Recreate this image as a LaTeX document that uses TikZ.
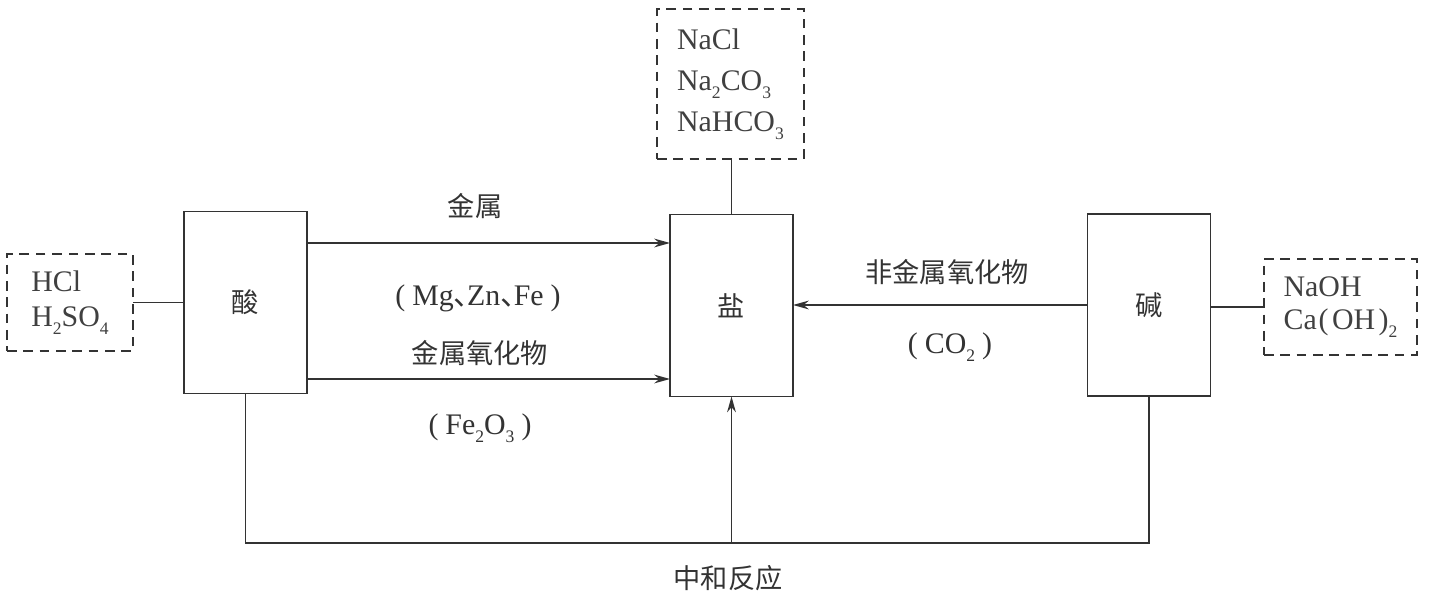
\documentclass[tikz,border=0pt]{standalone}
\usepackage{fontspec}
\setmainfont{Liberation Serif}
\newfontfamily\cjk{Noto Sans CJK SC}
\usetikzlibrary{arrows.meta}
\newcommand\chsub[1]{\raisebox{-0.55ex}{\fontsize{10}{10}\selectfont #1}}
\newcommand\lat{\fontsize{17}{20}\selectfont}
\newcommand\zh{\cjk\fontsize{15.5}{20}\selectfont}
\newcommand\dun{{\cjk 、}\kern-0.55em}
\begin{document}
\begin{tikzpicture}[x=0.02cm,y=-0.02cm,
  line/.style={draw=black!80, line width=0.9pt},
  arr/.style={line, -{Stealth[length=9pt,width=5pt]}},
  solidbox/.style={line, inner sep=0pt, outer sep=0pt, minimum width=2.46cm, minimum height=3.64cm, text=black!80, font=\zh},
  dashbox/.style={line, dash pattern=on 5.5pt off 3.8pt, inner sep=0pt, outer sep=0pt, align=left, text=black!75},
  lbl/.style={text=black!80, inner sep=0pt}]
\useasboundingbox (0,0) rectangle (1433,594);
% main boxes
\node[solidbox] (acid) at (245.5,302.5) {酸};
\node[solidbox] (salt) at (731.5,305.5) {盐};
\node[solidbox] (base) at (1149,305) {碱};
% dashed boxes
\node[dashbox, font=\fontsize{17}{20}\selectfont, minimum width=2.52cm, minimum height=1.94cm] (hcl) at (70,302.5)
  {HCl\\ H\chsub{2}SO\chsub{4}};
\node[dashbox, font=\fontsize{17}{19}\selectfont, minimum width=3.06cm, minimum height=1.92cm] (naoh) at (1340.5,307)
  {NaOH\\ Ca\kern1pt(\kern2pt OH\kern2pt)\chsub{2}};
\node[dashbox, font=\fontsize{17}{23.5}\selectfont, minimum width=2.94cm, minimum height=3.0cm] (nacl) at (730.5,84)
  {NaCl\\ Na\chsub{2}CO\chsub{3}\\ NaHCO\chsub{3}};
% connectors
\draw[line] (hcl.east) -- (acid.west |- hcl.east);
\draw[line] (base.east |- naoh.west) -- (naoh.west);
\draw[line] (salt.north) -- (salt.north |- nacl.south);
\draw[arr] (acid.east |- 0,243) -- (salt.west |- 0,243);
\draw[arr] (acid.east |- 0,379) -- (salt.west |- 0,379);
\draw[arr] (base.west |- 0,305) -- (salt.east |- 0,305);
\draw[line] (acid.south) -- (acid.south |- 0,543) -| (base.south);
\draw[arr] (salt.south |- 0,543) -- (salt.south);
% labels
\node[lbl, font=\zh] (l1) at (475,206) {金属};
\node[lbl, font=\lat] (l2) at (478,298) {(\kern4pt Mg\dun Zn\dun Fe\kern4pt)};
\node[lbl, font=\zh] (l3) at (480,353) {金属氧化物};
\node[lbl, font=\lat] (l4) at (480,428) {(\kern4pt Fe\chsub{2}O\chsub{3}\kern4pt)};
\node[lbl, font=\zh] (l5) at (947,272) {非金属氧化物};
\node[lbl, font=\lat] (l6) at (950,347) {(\kern4pt CO\chsub{2}\kern4pt)};
\node[lbl, font=\zh] (l7) at (728,578) {中和反应};
\end{tikzpicture}
\end{document}
